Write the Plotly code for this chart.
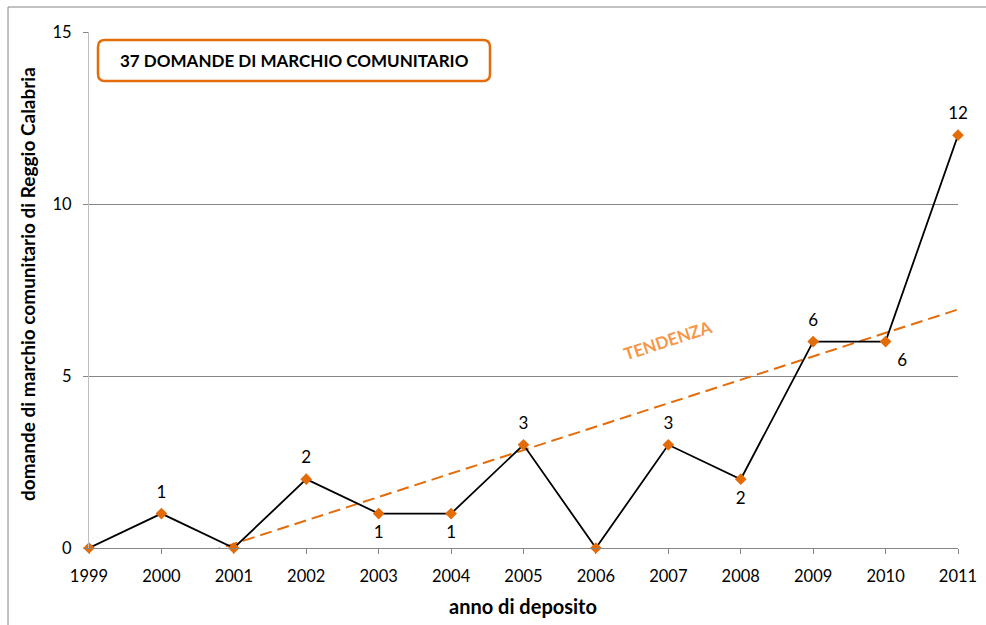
import numpy as np
import plotly.graph_objects as go

years = [1999, 2000, 2001, 2002, 2003, 2004, 2005, 2006, 2007, 2008, 2009, 2010, 2011]
domande = [0, 1, 0, 2, 1, 1, 3, 0, 3, 2, 6, 6, 12]
label_pos = ["top center", "top center", "top center", "top center", "bottom center", "bottom center",
             "top center", "top center", "top center", "bottom center", "top center", "bottom right", "top center"]
labels = ["", "1", "", "2", "1", "1", "3", "", "3", "2", "6", "6", "12"]
y_ticks = [0, 5, 10, 15]
title_text = "37 DOMANDE DI MARCHIO COMUNITARIO"
trend_text = "TENDENZA"
x_title = "anno di deposito"
y_title = "domande di marchio comunitario di Reggio Calabria"

W, H = 986, 625
L, R, T, B = 89, 958, 32, 548

def px(x):
    return (x - L) / (R - L)

def py(y):
    return (B - y) / (B - T)

slope, intercept = np.polyfit(years, domande, 1)
trend = [slope * x + intercept for x in years]

fig = go.Figure()
fig.add_trace(go.Scatter(
    x=years, y=trend, mode="lines",
    line=dict(color="#E46C0A", width=2, dash="12px,6px"),
    hoverinfo="skip", showlegend=False,
))
fig.add_trace(go.Scatter(
    x=years, y=domande, mode="lines+markers",
    line=dict(color="#000000", width=1.8),
    marker=dict(symbol="diamond", size=9, color="#E36C09"),
    cliponaxis=False, showlegend=False,
))
# data labels (invisible larger markers push labels a little further away)
fig.add_trace(go.Scatter(
    x=years, y=domande, mode="markers+text",
    marker=dict(size=17, opacity=0),
    text=labels, textposition=label_pos,
    textfont=dict(family="Lato", size=17, color="#000000"),
    cliponaxis=False, showlegend=False, hoverinfo="skip",
))

# rounded title box
x0, x1, y0, y1, r = 98, 490, 40, 81, 7
path = (f"M {px(x0 + r)} {py(y0)} L {px(x1 - r)} {py(y0)} "
        f"Q {px(x1)} {py(y0)} {px(x1)} {py(y0 + r)} "
        f"L {px(x1)} {py(y1 - r)} Q {px(x1)} {py(y1)} {px(x1 - r)} {py(y1)} "
        f"L {px(x0 + r)} {py(y1)} Q {px(x0)} {py(y1)} {px(x0)} {py(y1 - r)} "
        f"L {px(x0)} {py(y0 + r)} Q {px(x0)} {py(y0)} {px(x0 + r)} {py(y0)} Z")
fig.add_shape(type="path", path=path, xref="paper", yref="paper",
              line=dict(color="#E46C0A", width=2.5), fillcolor="white", layer="above")
fig.add_annotation(x=px((x0 + x1) / 2), y=py((y0 + y1) / 2), xref="paper", yref="paper",
                   xanchor="center", yanchor="middle",
                   text="<b>" + title_text + "</b>", showarrow=False,
                   font=dict(family="Lato", size=17, color="#000000"))

# outer border
fig.add_shape(type="rect", xref="paper", yref="paper",
              x0=px(8), x1=px(995), y0=py(7), y1=py(640),
              line=dict(color="#868686", width=1), layer="below")

fig.add_annotation(x=px(667), y=py(340), xref="paper", yref="paper",
                   xanchor="center", yanchor="middle",
                   text="<b>" + trend_text + "</b>", showarrow=False, textangle=-18,
                   font=dict(family="Lato", size=17, color="#F79646"))

# axis titles
fig.add_annotation(x=px(523), y=py(606), xref="paper", yref="paper",
                   xanchor="center", yanchor="middle",
                   text="<b>" + x_title + "</b>", showarrow=False,
                   font=dict(family="Lato", size=20, color="#000000"))
fig.add_annotation(x=px(27), y=py(284), xref="paper", yref="paper",
                   xanchor="center", yanchor="middle", textangle=-90,
                   text="<b>" + y_title + "</b>", showarrow=False,
                   font=dict(family="Lato", size=19, color="#000000"))

fig.update_layout(
    width=W, height=H,
    margin=dict(l=L, r=W - R, t=T, b=H - B, autoexpand=False),
    paper_bgcolor="white", plot_bgcolor="white",
    font=dict(family="Lato", size=16, color="#000000"),
    xaxis=dict(
        range=[1999, 2011], tickmode="array", tickvals=years, ticktext=[str(y) for y in years],
        showgrid=False, showline=True, linecolor="#868686", linewidth=1,
        ticks="outside", ticklen=5, tickcolor="#868686", ticklabelstandoff=8,
        tickfont=dict(family="Lato", size=16.5),
        zeroline=False, automargin=False,
    ),
    yaxis=dict(
        range=[0, 15], tickmode="array", tickvals=y_ticks,
        showgrid=True, gridcolor="#868686", gridwidth=1,
        showline=True, linecolor="#BFBFBF", linewidth=1,
        ticks="outside", ticklen=5, tickcolor="#868686", ticklabelstandoff=8,
        tickfont=dict(family="Lato", size=16.5),
        zeroline=False, automargin=False,
    ),
)

fig.write_html("out.html", config={"displayModeBar": False},
               post_script="document.body.style.margin='0';document.body.style.overflow='hidden';")
